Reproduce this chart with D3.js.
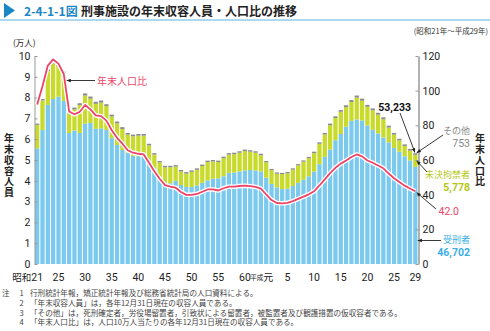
<!DOCTYPE html>
<html><head><meta charset="utf-8">
<script src="https://cdn.jsdelivr.net/npm/d3@7"></script>
<style>
body{margin:0;background:#fff;}
svg{display:block;font-family:"Noto Sans CJK JP","Noto Sans",sans-serif;}
</style></head><body>
<svg id="chart" width="490" height="331"></svg>
<script>
// 年次（昭和21年＝1946年 〜 平成29年＝2017年）
const years = d3.range(1946, 2018);

// 受刑者（人）
const sentenced = [
  55600, 64400, 76500, 79300, 80500, 78400, 63000, 64200, 63000, 67500,
  67800, 65000, 65200, 64500, 60500, 57200, 54800, 53500, 52000, 51800,
  51700, 49200, 46000, 42000, 38500, 38800, 40000, 38000, 37000, 37000,
  37800, 39000, 40200, 41000, 41200, 42200, 43800, 44000, 44500, 45000,
  45200, 45000, 44500, 41500, 38500, 36800, 36000, 36200, 37500, 39000,
  40500, 42200, 44500, 48000, 51500, 55000, 59500, 62500, 66000, 68800,
  69500, 69000, 66500, 64500, 62800, 60800, 58500, 55800, 54000, 51800,
  49800, 46702];

// 未決拘禁者（人）
const unconvicted = [
  11300, 14200, 16200, 17100, 14600, 13200, 9900, 10100, 13400, 13500,
  11700, 12000, 12400, 11400, 10400, 10400, 10100, 8700, 9400, 9900,
  10000, 7800, 6600, 6800, 8000, 7700, 6800, 6500, 6500, 7300,
  7500, 8100, 8800, 8300, 7800, 8700, 8800, 8800, 9000, 9300,
  8800, 8500, 7800, 7400, 6600, 6600, 7200, 7400, 7900, 8400,
  8700, 8700, 8800, 9800, 10800, 11700, 10700, 10700, 9400, 9100,
  10500, 9500, 9100, 9400, 9000, 8800, 7100, 6400, 5400, 4900,
  4700, 5778];

// その他（人）
const other = [
  600, 700, 800, 800, 900, 900, 900, 900, 900, 1000,
  1000, 1000, 1000, 900, 900, 900, 900, 800, 800, 800,
  800, 800, 700, 700, 700, 700, 700, 700, 700, 700,
  700, 700, 700, 700, 700, 700, 700, 700, 700, 700,
  700, 700, 700, 600, 600, 600, 600, 600, 600, 600,
  600, 600, 700, 700, 700, 800, 800, 800, 900, 900,
  1000, 1000, 900, 900, 900, 900, 900, 800, 800, 800,
  800, 753];

// 年末人口比（人口10万人当たり）
const rate = [
  92.0, 102.5, 114.5, 118.0, 115.6, 109.6, 88.0, 86.4, 87.8, 91.7,
  89.2, 85.7, 85.3, 82.7, 77.2, 72.8, 69.4, 65.6, 64.2, 63.6,
  63.2, 58.4, 53.5, 49.2, 45.5, 44.6, 44.0, 41.5, 39.9, 39.9,
  40.4, 41.7, 43.0, 43.0, 42.4, 43.7, 44.6, 44.6, 45.0, 45.2,
  44.9, 44.5, 43.5, 40.1, 36.9, 35.2, 35.0, 35.3, 36.3, 37.6,
  38.9, 40.2, 42.0, 45.3, 48.8, 52.4, 55.5, 57.9, 59.7, 61.7,
  63.2, 62.1, 59.7, 58.4, 56.8, 55.2, 52.2, 49.5, 47.3, 45.2,
  43.6, 42.0];

// 軸目盛
const leftTicks = [0, 1, 2, 3, 4, 5, 6, 7, 8, 9, 10];
const rightTicks = [0, 20, 40, 60, 80, 100, 120];
const xTickYears = [1946, 1950, 1955, 1960, 1965, 1970, 1975, 1980, 1985, 1989, 1993, 1998, 2003, 2008, 2013, 2017];
const xTickLabels = ["21", "25", "30", "35", "40", "45", "50", "55", "60", "元", "5", "10", "15", "20", "25", "29"];

const notes = [
  ["注", "1", "行刑統計年報，矯正統計年報及び総務省統計局の人口資料による。"],
  ["", "2", "「年末収容人員」は，各年12月31日現在の収容人員である。"],
  ["", "3", "「その他」は，死刑確定者，労役場留置者，引致状による留置者，被監置者及び観護措置の仮収容者である。"],
  ["", "4", "「年末人口比」は，人口10万人当たりの各年12月31日現在の収容人員である。"]
];

const colors = { sentenced: "#7cc9ef", unconvicted: "#c8da2b", other: "#8c8c8c", line: "#ee4468" };
const numFont = "Roboto, 'Liberation Sans', sans-serif";

const rows = years.map((y, i) => ({ year: y, sentenced: sentenced[i], unconvicted: unconvicted[i], other: other[i], rate: rate[i] }));

const svg = d3.select("#chart");

// 見出し
svg.append("path").attr("d", "M4,3 L15,10.5 L4,18 Z").attr("fill", "#1a86c6");
const title = svg.append("text").attr("y", 15.5).attr("font-size", 12).attr("font-weight", 700);
title.append("tspan").attr("x", 24).attr("fill", "#1a86c6").text("2-4-1-1図");
title.append("tspan").attr("x", 81).attr("fill", "#222").text("刑事施設の年末収容人員・人口比の推移");
svg.append("line").attr("x1", 0).attr("x2", 490).attr("y1", 20).attr("y2", 20)
  .attr("stroke", "#5ab4e0").attr("stroke-width", 1);
svg.append("text").attr("x", 488).attr("y", 33.5).attr("text-anchor", "end").attr("font-size", 7.5)
  .attr("fill", "#333").text("(昭和21年～平成29年)");

// スケール
const x = d3.scaleBand().domain(years).range([34.5, 418]).paddingInner(0.2).paddingOuter(0.1);
const yL = d3.scaleLinear().domain([0, 100000]).range([264, 56]);
const yR = d3.scaleLinear().domain([0, 120]).range([264, 56]);

// 積み上げ棒
const stack = d3.stack().keys(["sentenced", "unconvicted", "other"]);
const layers = stack(rows);
svg.append("g").selectAll("g").data(layers).join("g")
  .attr("fill", d => colors[d.key])
  .selectAll("rect").data(d => d).join("rect")
  .attr("x", d => x(d.data.year))
  .attr("width", x.bandwidth())
  .attr("y", d => yL(d[1]))
  .attr("height", d => yL(d[0]) - yL(d[1]));

// 左軸
const axL = svg.append("g").attr("transform", "translate(34.5,0)")
  .call(d3.axisLeft(yL).tickValues(leftTicks.map(v => v * 10000)).tickFormat(d => d / 10000)
    .tickSizeInner(-3).tickSizeOuter(0).tickPadding(4));
axL.select(".domain").attr("stroke", "#999");
axL.selectAll(".tick line").attr("stroke", "#999");
axL.selectAll("text").attr("font-size", 10.5).attr("fill", "#222").attr("font-family", numFont);

// 右軸
const axR = svg.append("g").attr("transform", "translate(418.5,0)")
  .call(d3.axisRight(yR).tickValues(rightTicks).tickSizeInner(-3).tickSizeOuter(0).tickPadding(4));
axR.select(".domain").attr("stroke", "#999").attr("stroke-width", 1.5);
axR.selectAll(".tick line").attr("stroke", "#999");
axR.selectAll("text").attr("font-size", 10.5).attr("fill", "#222").attr("font-family", numFont);

// 年末人口比の折れ線（白縁取り）
const line = d3.line().x(d => x(d.year) + x.bandwidth() / 2).y(d => yR(d.rate));
svg.append("path").datum(rows).attr("d", line).attr("fill", "none")
  .attr("stroke", "#fff").attr("stroke-width", 4.5).attr("stroke-linejoin", "round");
svg.append("path").datum(rows).attr("d", line).attr("fill", "none")
  .attr("stroke", colors.line).attr("stroke-width", 1.8).attr("stroke-linejoin", "round");

// 横軸ラベル
const xl = svg.append("g").attr("font-size", 10.5).attr("fill", "#222");
xTickYears.forEach((yr, i) => {
  const cx = x(yr) + x.bandwidth() / 2;
  if (i === 0) {
    const t = xl.append("text").attr("x", cx + 6).attr("y", 281).attr("text-anchor", "end");
    t.append("tspan").attr("font-size", 9.5).text("昭和");
    t.append("tspan").attr("font-family", numFont).text(xTickLabels[i]);
  } else if (xTickLabels[i] === "元") {
    const t = xl.append("text").attr("x", cx + 7).attr("y", 281).attr("text-anchor", "end");
    t.append("tspan").attr("font-size", 6.5).attr("dy", -1).text("平成");
    t.append("tspan").attr("dy", 1).attr("font-size", 10).text(xTickLabels[i]);
  } else {
    xl.append("text").attr("x", cx).attr("y", 281).attr("text-anchor", "middle")
      .attr("font-family", numFont).text(xTickLabels[i]);
  }
});

// 軸タイトル
svg.append("text").attr("x", 13).attr("y", 46).attr("font-size", 8.5).attr("fill", "#222").text("(万人)");
svg.append("text").attr("x", 9).attr("y", 133.5).attr("font-size", 10).attr("font-weight", 700).attr("fill", "#222")
  .style("writing-mode", "vertical-rl").attr("letter-spacing", 0.8).text("年末収容人員");
svg.append("text").attr("x", 480).attr("y", 133.5).attr("font-size", 10).attr("font-weight", 700).attr("fill", "#222")
  .style("writing-mode", "vertical-rl").attr("letter-spacing", 0.8).text("年末人口比");

// 矢印マーカー
svg.append("defs").append("marker").attr("id", "ah").attr("viewBox", "0 0 10 10")
  .attr("refX", 9).attr("refY", 5).attr("markerWidth", 5).attr("markerHeight", 5)
  .attr("orient", "auto").append("path").attr("d", "M0,1 L10,5 L0,9 Z").attr("fill", "#222");
function arrow(x1, y1, x2, y2) {
  svg.append("line").attr("x1", x1).attr("y1", y1).attr("x2", x2).attr("y2", y2)
    .attr("stroke", "#222").attr("stroke-width", 0.9).attr("marker-end", "url(#ah)");
}
// 系列名（上段）と人数（下段）の2行ラベル
function label2(xr, y1, y2, color, a, b, boldB) {
  svg.append("text").attr("x", xr).attr("y", y1).attr("text-anchor", "end")
    .attr("fill", color).attr("font-size", 9).text(a);
  const s = svg.append("text").attr("x", xr).attr("y", y2).attr("text-anchor", "end")
    .attr("fill", color).attr("font-size", 10.5).attr("font-family", numFont).text(b);
  if (boldB) s.attr("font-weight", 700);
}

// 折れ線の凡例
arrow(95, 80.5, x(1951) + x.bandwidth() / 2 + 3, 80.5);
svg.append("text").attr("x", 97).attr("y", 84.5).attr("font-size", 10).attr("fill", colors.line).text("年末人口比");

// 平成29年の内訳
const last = rows[rows.length - 1];
const lx = x(2017) + x.bandwidth() / 2;
const total = last.sentenced + last.unconvicted + last.other;
svg.append("text").attr("x", 411).attr("y", 110.5).attr("text-anchor", "end").attr("font-size", 10.5)
  .attr("font-family", numFont).attr("font-weight", 700).attr("fill", "#111").text(d3.format(",")(total));
arrow(400, 113, lx - 0.5, yL(total) - 1);

label2(470, 133.5, 146.5, "#888", "その他", d3.format(",")(last.other), false);
arrow(443, 135, lx + 1.5, yL(total) - 0.5);

const midU = yL(last.sentenced + last.unconvicted / 2);
label2(470, 178, 191, "#b4c714", "未決拘禁者", d3.format(",")(last.unconvicted), true);
arrow(427, 172, lx + 1.5, midU);

svg.append("text").attr("x", 459).attr("y", 214.5).attr("text-anchor", "end").attr("font-size", 10.5)
  .attr("font-family", numFont).attr("fill", colors.line).text(last.rate.toFixed(1));
arrow(436, 209, lx + 1.5, yR(last.rate) + 1.5);

label2(470, 243, 256, "#3aaee6", "受刑者", d3.format(",")(last.sentenced), true);
arrow(441, 240.5, lx + 2.5, 240.5);

// 注記
const nt = svg.append("text").attr("font-size", 7.6).attr("fill", "#444");
notes.forEach((n, i) => {
  const yy = 296 + i * 9.8;
  if (n[0]) nt.append("tspan").attr("x", 2).attr("y", yy).text(n[0]);
  nt.append("tspan").attr("x", 19.5).attr("y", yy).text(n[1]);
  nt.append("tspan").attr("x", 30).attr("y", yy).text(n[2]);
});
</script>
</body></html>
